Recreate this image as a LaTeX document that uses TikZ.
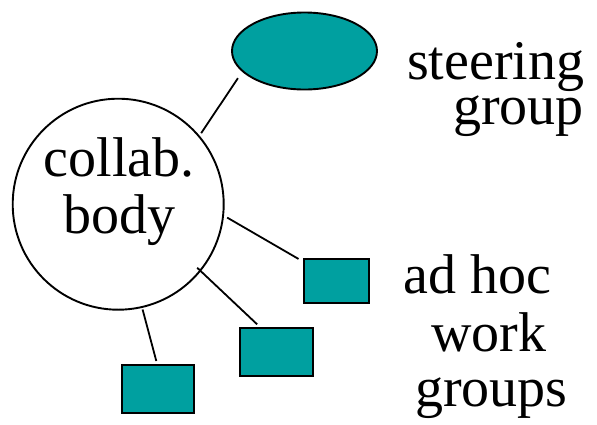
\documentclass[tikz,border=0pt]{standalone}
\usepackage{fontspec}
\setmainfont{Liberation Serif}
\usetikzlibrary{shapes.geometric}
\definecolor{tealfill}{RGB}{0,160,160}
\begin{document}
\begin{tikzpicture}[x=1pt,y=-1pt,
  shp/.style={draw=black, line width=1.9pt, outer sep=0pt, inner sep=0pt},
  box/.style={shp, fill=tealfill, rectangle},
  conn/.style={draw=black, line width=1.8pt},
  lbl/.style={anchor=base west, inner sep=0pt, font=\fontsize{56}{57}\selectfont}]
\useasboundingbox (0,0) rectangle (597,424);
\node[shp, circle, minimum size=211pt] (c) at (118.2,204.2) {};
\node[shp, ellipse, fill=tealfill, minimum width=145pt, minimum height=77pt] (e) at (304.5,51) {};
\node[box, minimum width=64.7pt, minimum height=44pt] (r1) at (336.7,281) {};
\node[box, minimum width=72.7pt, minimum height=48pt] (r2) at (276.3,351.7) {};
\node[box, minimum width=72.3pt, minimum height=48.3pt] (r3) at (157.8,389.2) {};
\draw[conn, shorten <=3.9pt, shorten >=8.5pt] (c.40.8) -- (e.198.15);
\draw[conn, shorten <=4.7pt, shorten >=6.7pt] (c.354.2) -- (r1.150.7);
\draw[conn, shorten <=-4.1pt, shorten >=4.9pt] (c.321.9) -- (r2.123.1);
\draw[conn, shorten <=2.6pt, shorten >=4.2pt] (c.283) -- (r3.91.7);
\node[lbl] (t1) at (43.6,176.7) {collab.};
\node[lbl] (t2) at (63,233.3) {body};
\node[lbl] (t3) at (407,79.3) {steering};
\node[lbl] (t4) at (453,124) {group};
\node[lbl] (t5) at (403,293.3) {ad hoc};
\node[lbl] (t6) at (431,351.7) {work};
\node[lbl] (t7) at (415,406.7) {groups};
\end{tikzpicture}
\end{document}
